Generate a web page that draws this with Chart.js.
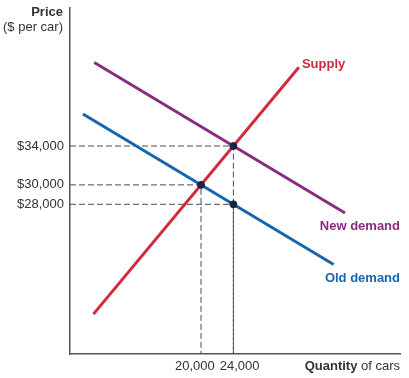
<!DOCTYPE html>
<html>
<head>
<meta charset="utf-8">
<script src="https://cdn.jsdelivr.net/npm/chart.js@4"></script>
<style>
  html, body { margin: 0; padding: 0; background: #fff; }
  canvas { display: block; }
</style>
</head>
<body>
<canvas id="c" width="409" height="378"></canvas>
<script>
// ---- Data ----
const quantityTicks = [20000, 24000];
const priceTicks = [28000, 30000, 34000];
const quantityRange = [3800, 44600];
const priceRange = [12600, 48200];

const supplyQ = [6700, 32100];
const supplyP = [16700, 42100];
const oldDemandQ = [5400, 36400];
const oldDemandP = [37300, 21800];
const newDemandQ = [6800, 37800];
const newDemandP = [42600, 27100];
const equilibriumQ = [20000, 24000, 24000];
const equilibriumP = [30000, 34000, 28000];

const seriesNames = ['Supply', 'New demand', 'Old demand'];
const seriesColors = ['#d02a3e', '#8b2c80', '#1766ad'];

const FONT = "'Liberation Sans', Arial, sans-serif";

function pts(xs, ys) { return xs.map((x, i) => ({ x: x, y: ys[i] })); }

// Dashed guide lines from axes to each equilibrium point
const guideSets = equilibriumQ.map((q, i) => ({
  type: 'line',
  data: [{ x: quantityRange[0], y: equilibriumP[i] }, { x: q, y: equilibriumP[i] }, { x: q, y: priceRange[0] }],
  borderColor: '#4a4a4a',
  borderWidth: 1,
  borderDash: [6, 3],
  pointRadius: 0,
  fill: false,
  order: 5
}));

const lineSets = [
  { label: seriesNames[0], data: pts(supplyQ, supplyP), color: seriesColors[0] },
  { label: seriesNames[1], data: pts(newDemandQ, newDemandP), color: seriesColors[1] },
  { label: seriesNames[2], data: pts(oldDemandQ, oldDemandP), color: seriesColors[2] }
].map(s => ({
  type: 'line',
  label: s.label,
  data: s.data,
  borderColor: s.color,
  borderWidth: 3,
  pointRadius: 0,
  fill: false,
  order: 2
}));

const pointSet = {
  type: 'scatter',
  data: pts(equilibriumQ, equilibriumP),
  backgroundColor: '#1b2340',
  borderColor: '#1b2340',
  pointRadius: 3.5,
  order: 0
};

// Labels near the line ends, x tick labels and axis titles
const labelPlugin = {
  id: 'labels',
  afterDatasetsDraw(chart) {
    const ctx = chart.ctx;
    const xs = chart.scales.x, ys = chart.scales.y;
    const area = chart.chartArea;
    ctx.save();
    ctx.textBaseline = 'middle';
    ctx.font = 'bold 13px ' + FONT;
    // Supply: next to top end
    let ex = xs.getPixelForValue(supplyQ[1]), ey = ys.getPixelForValue(supplyP[1]);
    ctx.fillStyle = seriesColors[0];
    ctx.textAlign = 'left';
    ctx.fillText(seriesNames[0], ex + 3, ey - 3);
    // New demand: below right end
    ey = ys.getPixelForValue(newDemandP[1]);
    ctx.fillStyle = seriesColors[1];
    ctx.textAlign = 'right';
    ctx.fillText(seriesNames[1], area.right, ey + 13);
    // Old demand
    ey = ys.getPixelForValue(oldDemandP[1]);
    ctx.fillStyle = seriesColors[2];
    ctx.fillText(seriesNames[2], area.right, ey + 14);

    // X tick labels, spread apart around the midpoint of the two ticks
    const p0 = xs.getPixelForValue(quantityTicks[0]);
    const p1 = xs.getPixelForValue(quantityTicks[1]);
    const mid = (p0 + p1) / 2;
    const ty = area.bottom + 12;
    ctx.fillStyle = '#333';
    ctx.font = '13px ' + FONT;
    ctx.textAlign = 'right';
    ctx.fillText(quantityTicks[0].toLocaleString('en-US'), mid - 2.5, ty);
    ctx.textAlign = 'left';
    ctx.fillText(quantityTicks[1].toLocaleString('en-US'), mid + 2.5, ty);

    // Y axis title
    ctx.textAlign = 'right';
    ctx.font = 'bold 13px ' + FONT;
    ctx.fillText('Price', area.left - 7, area.top + 4);
    ctx.font = '13px ' + FONT;
    ctx.fillText('($ per car)', area.left - 7, area.top + 19);

    // X axis title
    ctx.textAlign = 'right';
    ctx.font = '13px ' + FONT;
    const rest = ' of cars';
    const rw = ctx.measureText(rest).width;
    ctx.fillText(rest, area.right, ty);
    ctx.font = 'bold 13px ' + FONT;
    ctx.fillText('Quantity', area.right - rw, ty);
    ctx.restore();
  }
};

new Chart(document.getElementById('c'), {
  data: { datasets: [...guideSets, ...lineSets, pointSet] },
  options: {
    responsive: false,
    animation: false,
    layout: { padding: { top: 8, right: 9, left: 0, bottom: 0 } },
    plugins: { legend: { display: false }, tooltip: { enabled: false } },
    scales: {
      x: {
        type: 'linear',
        min: quantityRange[0],
        max: quantityRange[1],
        grid: { display: false, drawTicks: false },
        border: { display: true, color: '#555', width: 1.5 },
        afterBuildTicks: s => { s.ticks = quantityTicks.map(v => ({ value: v })); },
        afterFit: s => { s.height = 24; s.paddingLeft = 0; s.paddingRight = 0; },
        ticks: { display: false }
      },
      y: {
        type: 'linear',
        min: priceRange[0],
        max: priceRange[1],
        grid: { display: false, drawTicks: false },
        border: { display: true, color: '#555', width: 1.5 },
        afterBuildTicks: s => { s.ticks = priceTicks.map(v => ({ value: v })); },
        afterFit: s => { s.width = 70; s.paddingTop = 0; s.paddingBottom = 0; },
        ticks: {
          autoSkip: false,
          padding: 6,
          color: '#333',
          font: { family: FONT, size: 13 },
          callback: v => '$' + v.toLocaleString('en-US')
        }
      }
    }
  },
  plugins: [labelPlugin]
});
</script>
</body>
</html>
